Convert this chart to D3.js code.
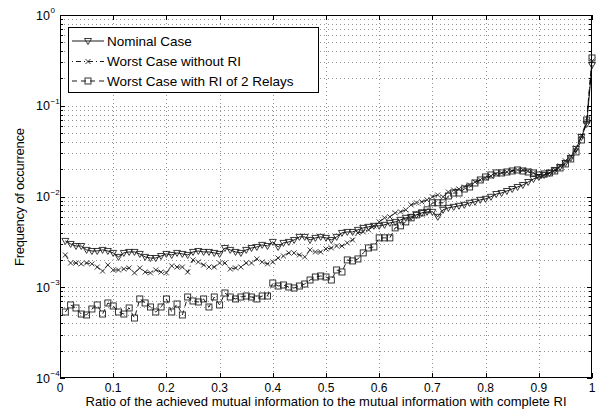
<!DOCTYPE html>
<html><head><meta charset="utf-8">
<script src="https://cdn.jsdelivr.net/npm/d3@7"></script>
<style>body{margin:0;background:#fff}svg text{font-family:"Liberation Sans",Arial,sans-serif;fill:#000}</style>
</head><body>
<svg id="c" width="600" height="414"></svg>
<script>
const xValues = [0.01,0.02,0.03,0.04,0.05,0.06,0.07,0.08,0.09,0.10,
0.11,0.12,0.13,0.14,0.15,0.16,0.17,0.18,0.19,0.20,
0.21,0.22,0.23,0.24,0.25,0.26,0.27,0.28,0.29,0.30,
0.31,0.32,0.33,0.34,0.35,0.36,0.37,0.38,0.39,0.40,
0.41,0.42,0.43,0.44,0.45,0.46,0.47,0.48,0.49,0.50,
0.51,0.52,0.53,0.54,0.55,0.56,0.57,0.58,0.59,0.60,
0.61,0.62,0.63,0.64,0.65,0.66,0.67,0.68,0.69,0.70,
0.71,0.72,0.73,0.74,0.75,0.76,0.77,0.78,0.79,0.80,
0.81,0.82,0.83,0.84,0.85,0.86,0.87,0.88,0.89,0.90,
0.91,0.92,0.93,0.94,0.95,0.96,0.97,0.98,0.99,1.00];

const nominal = [3.24e-3,3.00e-3,2.85e-3,2.85e-3,2.58e-3,2.51e-3,2.51e-3,2.58e-3,2.51e-3,2.39e-3,
2.16e-3,2.39e-3,2.45e-3,2.45e-3,2.33e-3,2.16e-3,2.10e-3,2.10e-3,2.21e-3,2.33e-3,
2.27e-3,2.39e-3,2.33e-3,2.27e-3,2.45e-3,2.51e-3,2.45e-3,2.45e-3,2.39e-3,2.33e-3,
2.71e-3,2.58e-3,2.45e-3,2.39e-3,2.58e-3,2.71e-3,2.78e-3,2.93e-3,2.85e-3,3.16e-3,
2.78e-3,3.08e-3,3.16e-3,3.32e-3,3.59e-3,3.59e-3,3.32e-3,3.50e-3,3.59e-3,3.50e-3,
3.32e-3,3.59e-3,3.97e-3,4.07e-3,4.07e-3,4.29e-3,4.51e-3,4.63e-3,4.75e-3,4.75e-3,
4.87e-3,5.12e-3,5.25e-3,5.53e-3,5.82e-3,5.97e-3,6.28e-3,6.60e-3,6.77e-3,6.77e-3,
5.97e-3,7.13e-3,7.50e-3,7.69e-3,7.89e-3,8.09e-3,8.52e-3,8.74e-3,9.19e-3,9.43e-3,
9.92e-3,1.065e-2,1.093e-2,1.150e-2,1.210e-2,1.273e-2,1.339e-2,1.445e-2,1.560e-2,1.641e-2,
1.727e-2,1.817e-2,1.961e-2,2.116e-2,2.342e-2,2.660e-2,3.345e-2,4.525e-2,6.294e-2,0.281];

const worstNoRI = [2.27e-3,1.85e-3,1.85e-3,1.81e-3,1.85e-3,1.81e-3,1.67e-3,1.51e-3,1.76e-3,1.55e-3,
1.55e-3,1.59e-3,1.63e-3,1.44e-3,1.63e-3,1.47e-3,1.44e-3,1.55e-3,1.47e-3,1.44e-3,
1.72e-3,1.67e-3,1.67e-3,1.47e-3,2.00e-3,1.90e-3,1.76e-3,1.67e-3,1.67e-3,1.85e-3,
1.85e-3,1.59e-3,1.63e-3,1.67e-3,1.85e-3,1.85e-3,2.05e-3,1.90e-3,1.81e-3,1.90e-3,
2.10e-3,2.21e-3,2.39e-3,2.39e-3,2.27e-3,2.16e-3,2.58e-3,2.45e-3,2.45e-3,2.64e-3,
2.71e-3,2.85e-3,2.85e-3,3.08e-3,3.32e-3,3.97e-3,4.07e-3,4.29e-3,4.75e-3,5.25e-3,
5.82e-3,5.97e-3,6.60e-3,6.77e-3,7.13e-3,8.09e-3,8.52e-3,8.74e-3,9.19e-3,9.92e-3,
1.039e-2,9.92e-3,1.121e-2,1.179e-2,1.210e-2,1.273e-2,1.339e-2,1.445e-2,1.521e-2,1.600e-2,
1.683e-2,1.771e-2,1.817e-2,1.863e-2,1.911e-2,1.961e-2,1.961e-2,1.911e-2,1.817e-2,1.683e-2,
1.727e-2,1.817e-2,1.961e-2,2.170e-2,2.465e-2,2.799e-2,3.431e-2,4.64e-2,6.79e-2,0.311];

const worstRI2 = [5.34e-4,6.38e-4,5.91e-4,5.07e-4,4.95e-4,5.76e-4,6.38e-4,5.07e-4,6.71e-4,6.22e-4,
5.34e-4,5.07e-4,5.91e-4,4.58e-4,7.43e-4,6.71e-4,6.06e-4,5.34e-4,6.06e-4,7.43e-4,
5.34e-4,6.54e-4,4.95e-4,7.81e-4,7.06e-4,6.88e-4,7.43e-4,6.06e-4,7.81e-4,6.38e-4,
8.64e-4,7.81e-4,7.43e-4,7.81e-4,8.01e-4,7.81e-4,7.43e-4,8.01e-4,8.01e-4,1.114e-3,
1.032e-3,1.059e-3,1.006e-3,9.81e-4,1.032e-3,1.086e-3,1.202e-3,1.297e-3,1.331e-3,1.297e-3,
1.202e-3,1.550e-3,1.473e-3,2.00e-3,1.95e-3,2.05e-3,2.39e-3,2.71e-3,2.78e-3,3.50e-3,
3.50e-3,3.50e-3,4.51e-3,4.75e-3,5.25e-3,5.82e-3,6.28e-3,6.60e-3,7.13e-3,8.52e-3,
8.52e-3,8.52e-3,1.013e-2,1.093e-2,1.093e-2,1.210e-2,1.273e-2,1.409e-2,1.521e-2,1.641e-2,
1.727e-2,1.817e-2,1.817e-2,1.863e-2,1.911e-2,1.961e-2,1.911e-2,1.863e-2,1.817e-2,1.727e-2,
1.771e-2,1.817e-2,1.911e-2,2.063e-2,2.284e-2,2.593e-2,3.099e-2,4.195e-2,6.966e-2,0.336];

const seriesNames = ["Nominal Case","Worst Case without RI","Worst Case with RI of 2 Relays"];
const xTicks = [0,0.1,0.2,0.3,0.4,0.5,0.6,0.7,0.8,0.9,1];
const xTickLabels = ["0","0.1","0.2","0.3","0.4","0.5","0.6","0.7","0.8","0.9","1"];
const yTicks = [1e-4,1e-3,1e-2,1e-1,1];
const yTickExps = ["\u22124","\u22123","\u22122","\u22121","0"];
const xLabel = "Ratio of the achieved mutual information to the mutual information with complete RI";
const yLabel = "Frequency of occurrence";

const L=60,R=592,T=15,B=378;
const svg = d3.select("#c");
const x = d3.scaleLinear().domain([0,1]).range([L,R]);
const y = d3.scaleLog().domain([1e-4,1]).range([B,T]);

const minorY = [];
[1e-4,1e-3,1e-2,1e-1].forEach(d=>{for(let k=2;k<=9;k++) minorY.push(d*k);});

const grid = svg.append("g").attr("stroke","#777").attr("stroke-width",0.8).attr("stroke-dasharray","1,3");
xTicks.slice(1,-1).forEach(v=>grid.append("line").attr("x1",Math.round(x(v))+0.5).attr("x2",Math.round(x(v))+0.5).attr("y1",T).attr("y2",B));
minorY.concat(yTicks.slice(1,-1)).forEach(v=>grid.append("line").attr("x1",L).attr("x2",R).attr("y1",Math.round(y(v))+0.5).attr("y2",Math.round(y(v))+0.5));

const ax = svg.append("g").attr("stroke","#000").attr("stroke-width",1).attr("fill","none");
ax.append("rect").attr("x",L+0.5).attr("y",T+0.5).attr("width",R-L-1).attr("height",B-T-1);
xTicks.forEach(v=>{const px=Math.round(x(v))+0.5;
  ax.append("line").attr("x1",px).attr("x2",px).attr("y1",B).attr("y2",B-5);
  ax.append("line").attr("x1",px).attr("x2",px).attr("y1",T).attr("y2",T+5);});
yTicks.forEach(v=>{const py=Math.round(y(v))+0.5;
  ax.append("line").attr("x1",L).attr("x2",L+5).attr("y1",py).attr("y2",py);
  ax.append("line").attr("x1",R).attr("x2",R-5).attr("y1",py).attr("y2",py);});
minorY.forEach(v=>{const py=Math.round(y(v))+0.5;
  ax.append("line").attr("x1",L).attr("x2",L+3).attr("y1",py).attr("y2",py);
  ax.append("line").attr("x1",R).attr("x2",R-3).attr("y1",py).attr("y2",py);});

xTicks.forEach((v,i)=>svg.append("text").attr("x",x(v)).attr("y",392).attr("text-anchor","middle").attr("font-size",12).text(xTickLabels[i]));
yTicks.forEach((v,i)=>{
  svg.append("text").attr("x",50).attr("y",y(v)+4.5).attr("text-anchor","end").attr("font-size",12.5).text("10");
  svg.append("text").attr("x",50.5).attr("y",y(v)-2).attr("text-anchor","start").attr("font-size",8).text(yTickExps[i]);
});
svg.append("text").attr("x",(L+R)/2).attr("y",406).attr("text-anchor","middle").attr("font-size",13).attr("textLength",481).attr("lengthAdjust","spacing").text(xLabel);
svg.append("text").attr("transform","translate(24,197) rotate(-90)").attr("text-anchor","middle").attr("font-size",13).attr("textLength",138).attr("lengthAdjust","spacing").text(yLabel);

const dashes = [null,"5,3,1,3","5,4"];
const allSeries = [nominal,worstNoRI,worstRI2];
const symTypes = ["tri","cross","square"];
function drawMarker(g,type,cx,cy){
  if(type==="tri"){
    g.append("path").attr("d",`M${cx-3.5},${cy-2.5}L${cx+3.5},${cy-2.5}L${cx},${cy+3.5}Z`).attr("fill","none").attr("stroke","#222").attr("stroke-width",0.9);
  } else if(type==="square"){
    g.append("rect").attr("x",cx-3).attr("y",cy-3).attr("width",6).attr("height",6).attr("fill","none").attr("stroke","#222").attr("stroke-width",0.9);
  } else {
    g.append("path").attr("d",`M${cx-2.5},${cy-2.5}L${cx+2.5},${cy+2.5}M${cx-2.5},${cy+2.5}L${cx+2.5},${cy-2.5}`).attr("stroke","#222").attr("stroke-width",0.9);
  }
}
const line = d3.line().x((d,i)=>x(xValues[i])).y(d=>y(d));
const plot = svg.append("g");
allSeries.forEach((s,si)=>{
  const p=plot.append("path").datum(s).attr("d",line).attr("fill","none").attr("stroke","#000").attr("stroke-width",0.9);
  if(dashes[si]) p.attr("stroke-dasharray",dashes[si]);
  const g=plot.append("g");
  s.forEach((d,i)=>drawMarker(g,symTypes[si],x(xValues[i]),y(d)));
});

const lg = svg.append("g");
lg.append("rect").attr("x",68.5).attr("y",27.5).attr("width",250).attr("height",65).attr("fill","#fff").attr("stroke","#000").attr("stroke-width",1);
const rowsY=[41,61.5,81];
seriesNames.forEach((n,i)=>{
  const l=lg.append("line").attr("x1",72).attr("x2",104).attr("y1",rowsY[i]).attr("y2",rowsY[i]).attr("stroke","#000").attr("stroke-width",0.9);
  if(dashes[i]) l.attr("stroke-dasharray",i===1?"1,3,5,3":"5,4");
  drawMarker(lg,symTypes[i],88,rowsY[i]);
  lg.append("text").attr("x",107).attr("y",rowsY[i]+4.5).attr("font-size",13.5).text(n);
});
</script>
</body></html>
